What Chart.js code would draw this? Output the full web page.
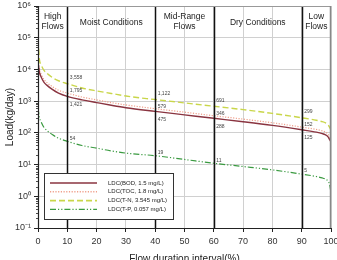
<!DOCTYPE html>
<html><head><meta charset="utf-8">
<script src="https://cdn.jsdelivr.net/npm/chart.js@4/dist/chart.umd.min.js"></script>
<style>html,body{margin:0;padding:0;background:#fff}#w{width:337px;height:260px}</style>
</head><body><div id="w"><canvas id="c" width="337" height="260"></canvas></div>
<script>
const flowPct = [0,0.5,1,2,3,5,7,10,15,20,25,30,40,50,60,70,80,90,95,97,98,99,99.5,100];
const bod = [17000,8000,6000,4000,3200,2300,1800,1421,1100,900,740,620,475,370,288,225,172,125,105,95,88,75,62,52];
const toc = [20000,9800,7300,4900,3900,2800,2200,1795,1350,1100,900,760,579,450,346,272,208,152,128,116,107,91,76,62];
const tn  = [85000,20000,14500,9500,7600,5500,4400,3558,2600,2100,1750,1450,1122,880,691,540,410,299,250,225,210,180,150,120];
const tp  = [600,300,230,150,120,87,68,54,40,33,27,23,19,14.5,11,8.7,6.8,5,4.2,3.8,3.5,3,2.4,1.3];
const seriesNames = ['LDC(BOD, 1.5 mg/L)','LDC(TOC, 1.8 mg/L)','LDC(T-N, 3.545 mg/L)','LDC(T-P, 0.057 mg/L)'];
const zoneBounds = [10,40,60,90];
const zoneLabels = [['High','Flows'],['Moist Conditions'],['Mid-Range','Flows'],['Dry Conditions'],['Low','Flows']];
const labelX = [10,40,60,90];
const bodLab = [1421,475,288,125];
const tocLab = [1795,579,346,152];
const tnLab  = [3558,1122,691,299];
const tpLab  = [54,19,11,5];
const yExp = [-1,0,1,2,3,4,5,6];

const sup = {'-':'⁻','0':'⁰','1':'¹','2':'²','3':'³','4':'⁴','5':'⁵','6':'⁶','7':'⁷','8':'⁸','9':'⁹'};
const toSup = e => String(e).split('').map(c=>sup[c]).join('');
const pts = arr => flowPct.map((x,i)=>({x:x,y:arr[i]}));

const styles = [
 {borderColor:'#8a3440',borderWidth:1.4,borderDash:[]},
 {borderColor:'#f0a08c',borderWidth:1.2,borderDash:[1.2,1.5]},
 {borderColor:'#c9d64a',borderWidth:1.4,borderDash:[6,3]},
 {borderColor:'#3a9a40',borderWidth:1.2,borderDash:[6,2,1.2,2,1.2,2]}
];
const dataSets = [bod,toc,tn,tp].map((a,i)=>Object.assign({label:seriesNames[i],data:pts(a),pointRadius:0,fill:false,tension:0.3,cubicInterpolationMode:'monotone'},styles[i]));

const overlay = {
 id:'overlay',
 afterDatasetsDraw(chart){
  const {ctx,chartArea:a,scales:{x,y}} = chart;
  ctx.save();
  ctx.strokeStyle='#111'; ctx.lineWidth=1.5;
  zoneBounds.forEach(v=>{const px=Math.round(x.getPixelForValue(v))+0.5;ctx.beginPath();ctx.moveTo(px,a.top);ctx.lineTo(px,a.bottom);ctx.stroke();});
  ctx.fillStyle='#222'; ctx.font='8.5px "Liberation Sans", Arial, sans-serif'; ctx.textAlign='center'; ctx.textBaseline='middle';
  const edges=[0].concat(zoneBounds,[100]);
  zoneLabels.forEach((ls,i)=>{
   const cx=(x.getPixelForValue(edges[i])+x.getPixelForValue(edges[i+1]))/2;
   if(ls.length===1){ctx.fillText(ls[0],cx,a.top+17);} else {ctx.fillText(ls[0],cx,a.top+11);ctx.fillText(ls[1],cx,a.top+21);}
  });
  ctx.font='5px "Liberation Sans", Arial, sans-serif'; ctx.textAlign='left'; ctx.fillStyle='#444';
  const fmt=v=>v.toLocaleString('en-US');
  const groups=[[tnLab,-6],[tocLab,-2],[bodLab,8],[tpLab,-3]];
  groups.forEach(([arr,off])=>{
   arr.forEach((v,i)=>{ctx.fillText(fmt(v),x.getPixelForValue(labelX[i])+2.5,y.getPixelForValue(v)+off);});
  });
  ctx.strokeStyle='#222'; ctx.lineWidth=0.8;
  for(let e=-1;e<6;e++){for(let k=2;k<10;k++){const py=Math.round(y.getPixelForValue(k*Math.pow(10,e)))+0.5;ctx.beginPath();ctx.moveTo(a.left-2,py);ctx.lineTo(a.left,py);ctx.stroke();}}
  ctx.strokeStyle='#999'; ctx.lineWidth=1;
  ctx.beginPath();ctx.moveTo(a.left,a.top+0.5);ctx.lineTo(a.right-0.5,a.top+0.5);ctx.stroke();
  ctx.strokeStyle='#888'; ctx.lineWidth=1.5;
  ctx.beginPath();ctx.moveTo(a.right-0.5,a.top);ctx.lineTo(a.right-0.5,a.bottom);ctx.stroke();
  ctx.strokeStyle='#222'; ctx.lineWidth=1.2;
  ctx.beginPath();ctx.moveTo(a.left+0.5,a.top);ctx.lineTo(a.left+0.5,a.bottom+0.5);ctx.lineTo(a.right,a.bottom+0.5);ctx.stroke();
  const lx=44, ly=173, lw=129, lh=46;
  ctx.fillStyle='#fff'; ctx.fillRect(lx,ly,lw,lh);
  ctx.strokeStyle='#333'; ctx.lineWidth=1; ctx.strokeRect(lx+0.5,ly+0.5,lw,lh);
  ctx.font='6px "Liberation Sans", Arial, sans-serif'; ctx.textBaseline='middle';
  dataSets.forEach((d,i)=>{
   const ry=ly+10+i*8.8;
   ctx.strokeStyle=d.borderColor; ctx.lineWidth=d.borderWidth+0.2; ctx.setLineDash(d.borderDash);
   ctx.beginPath();ctx.moveTo(lx+6,ry);ctx.lineTo(lx+53,ry);ctx.stroke();
   ctx.setLineDash([]); ctx.fillStyle='#222'; ctx.fillText(d.label,lx+64,ry);
  });
  ctx.restore();
 }
};

new Chart(document.getElementById('c'),{
 type:'line',
 data:{datasets:dataSets},
 options:{
  responsive:false,animation:false,
  layout:{padding:{top:6,right:6,left:0,bottom:0}},
  plugins:{legend:{display:false},tooltip:{enabled:false}},
  scales:{
   x:{type:'linear',min:0,max:100,
      ticks:{stepSize:10,color:'#333',font:{size:9,family:'"Liberation Sans", Arial, sans-serif'},padding:4,maxRotation:0},
      grid:{color:'#d0d0d0',lineWidth:1,tickLength:4,tickColor:'#222'},border:{display:false},
      title:{display:true,text:'Flow duration interval(%)',color:'#222',font:{size:10,family:'"Liberation Sans", Arial, sans-serif'},padding:{top:8,bottom:-5}},
      afterFit:s=>{s.height=32;s.paddingLeft=0;s.paddingRight=0;}},
   y:{type:'logarithmic',min:0.1,max:1e6,
      afterBuildTicks:s=>{s.ticks=yExp.map(e=>({value:Math.pow(10,e)}));},
      ticks:{color:'#333',font:{size:9,family:'"Liberation Sans", Arial, sans-serif'},padding:3,callback:v=>'10'+toSup(Math.round(Math.log10(v)))},
      grid:{color:'#d0d0d0',lineWidth:1,tickLength:4,tickColor:'#222'},border:{display:false},
      title:{display:true,text:'Load(kg/day)',color:'#222',font:{size:10,family:'"Liberation Sans", Arial, sans-serif'},padding:{bottom:1}},
      afterFit:s=>{s.width=38;s.paddingTop=0;s.paddingBottom=0;}}
  }
 },
 plugins:[overlay]
});
</script></body></html>
